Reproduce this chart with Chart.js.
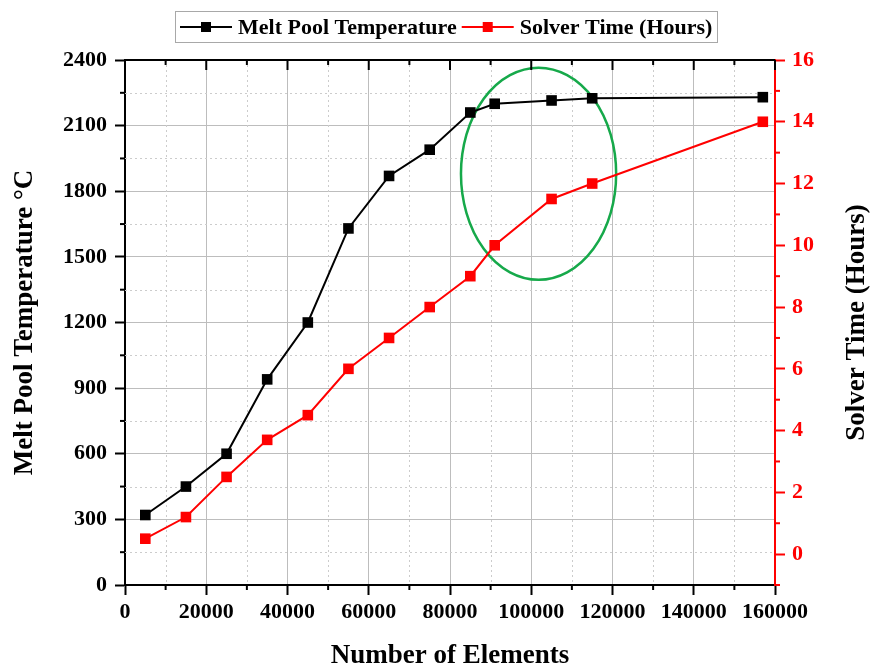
<!DOCTYPE html>
<html><head><meta charset="utf-8">
<script src="https://cdn.jsdelivr.net/npm/chart.js@4/dist/chart.umd.min.js"></script>
<style>html,body{margin:0;padding:0;background:#fff}#wrap{width:872px;height:667px;position:relative}</style>
</head><body><div id="wrap"><canvas id="c" width="872" height="667"></canvas></div>
<script>
// ---- data ----
const elements = [5000, 15000, 25000, 35000, 45000, 55000, 65000, 75000, 85000, 91000, 105000, 115000, 157000];
const meltTemp = [320, 450, 600, 940, 1200, 1630, 1870, 1990, 2160, 2200, 2215, 2225, 2230];
const solverHours = [0.5, 1.2, 2.5, 3.7, 4.5, 6.0, 7.0, 8.0, 9.0, 10.0, 11.5, 12.0, 14.0];
const seriesNames = ['Melt Pool Temperature', 'Solver Time (Hours)'];
const xTicks = [0, 20000, 40000, 60000, 80000, 100000, 120000, 140000, 160000];
const xMinorTicks = [10000, 30000, 50000, 70000, 90000, 110000, 130000, 150000];
const tempTicks = [0, 300, 600, 900, 1200, 1500, 1800, 2100, 2400];
const tempMinorTicks = [150, 450, 750, 1050, 1350, 1650, 1950, 2250];
const hourTicks = [0, 2, 4, 6, 8, 10, 12, 14, 16];
const hourMinorTicks = [-1, 1, 3, 5, 7, 9, 11, 13, 15];
const xTitle = 'Number of Elements';
const yTitle = 'Melt Pool Temperature °C';
const y1Title = 'Solver Time (Hours)';
// highlighted region (data units: x, left axis)
const highlight = { cx: 101800, cy: 1880, rx: 19100, ry: 485 };

const FONT = '"Liberation Serif", "Times New Roman", serif';
const RED = '#ff0000';

const decor = {
  id: 'decor',
  beforeDatasetsDraw(chart) {
    const { ctx, chartArea: a, scales: { x, y } } = chart;
    ctx.save();
    ctx.strokeStyle = '#cccccc';
    ctx.lineWidth = 1;
    ctx.setLineDash([2, 3]);
    xMinorTicks.forEach(v => {
      const px = Math.round(x.getPixelForValue(v)) + 0.5;
      ctx.beginPath(); ctx.moveTo(px, a.top); ctx.lineTo(px, a.bottom); ctx.stroke();
    });
    tempMinorTicks.forEach(v => {
      const py = Math.round(y.getPixelForValue(v)) + 0.5;
      ctx.beginPath(); ctx.moveTo(a.left, py); ctx.lineTo(a.right, py); ctx.stroke();
    });
    ctx.setLineDash([]);
    // ellipse highlight
    const cx = x.getPixelForValue(highlight.cx), cy = y.getPixelForValue(highlight.cy);
    const rx = Math.abs(x.getPixelForValue(highlight.cx + highlight.rx) - cx);
    const ry = Math.abs(y.getPixelForValue(highlight.cy + highlight.ry) - cy);
    ctx.strokeStyle = '#16a94a';
    ctx.lineWidth = 2.5;
    ctx.beginPath(); ctx.ellipse(cx, cy, rx, ry, 0, 0, Math.PI * 2); ctx.stroke();
    ctx.restore();
  },
  afterDraw(chart) {
    const { ctx, chartArea: a, scales: { x, y, y1 } } = chart;
    ctx.save();
    // top axis line and inward ticks
    ctx.strokeStyle = '#000'; ctx.lineWidth = 2;
    ctx.beginPath(); ctx.moveTo(a.left - 1, a.top); ctx.lineTo(a.right, a.top); ctx.stroke();
    xTicks.forEach(v => { const px = x.getPixelForValue(v); ctx.beginPath(); ctx.moveTo(px, a.top); ctx.lineTo(px, a.top + 10); ctx.stroke(); });
    xMinorTicks.forEach(v => { const px = x.getPixelForValue(v); ctx.beginPath(); ctx.moveTo(px, a.top); ctx.lineTo(px, a.top + 5); ctx.stroke(); });
    // minor ticks bottom
    xMinorTicks.forEach(v => { const px = x.getPixelForValue(v); ctx.beginPath(); ctx.moveTo(px, a.bottom); ctx.lineTo(px, a.bottom + 5); ctx.stroke(); });
    // minor ticks left
    tempMinorTicks.forEach(v => { const py = y.getPixelForValue(v); ctx.beginPath(); ctx.moveTo(a.left, py); ctx.lineTo(a.left - 5, py); ctx.stroke(); });
    // minor ticks right
    ctx.strokeStyle = RED;
    hourMinorTicks.forEach(v => { const py = y1.getPixelForValue(v); ctx.beginPath(); ctx.moveTo(a.right, py); ctx.lineTo(a.right + 5, py); ctx.stroke(); });
    // right axis title (reads bottom to top)
    ctx.fillStyle = '#000';
    ctx.font = 'bold 27px ' + FONT;
    ctx.textAlign = 'center'; ctx.textBaseline = 'middle';
    ctx.translate(857.5, (a.top + a.bottom) / 2);
    ctx.rotate(-Math.PI / 2);
    ctx.fillText(y1Title, 0, 0);
    ctx.restore();

    // legend
    ctx.save();
    ctx.font = 'bold 22px ' + FONT;
    const w1 = ctx.measureText(seriesNames[0]).width;
    const w2 = ctx.measureText(seriesNames[1]).width;
    const sample = 52, gapA = 6, gapB = 5, pad = 5;
    const total = pad + sample + gapA + w1 + gapB + sample + gapA + w2 + pad;
    const bx = Math.round(446.5 - total / 2), by = 11, bh = 31;
    ctx.strokeStyle = '#a8a8a8'; ctx.lineWidth = 1;
    ctx.strokeRect(bx + 0.5, by + 0.5, Math.round(total), bh);
    const cy = by + bh / 2 + 0.5;
    const items = [[seriesNames[0], '#000', w1], [seriesNames[1], RED, w2]];
    let cx = bx + pad;
    items.forEach(([t, col, w]) => {
      ctx.strokeStyle = col; ctx.fillStyle = col; ctx.lineWidth = 2;
      ctx.beginPath(); ctx.moveTo(cx, cy); ctx.lineTo(cx + sample, cy); ctx.stroke();
      ctx.fillRect(cx + sample / 2 - 5, cy - 5, 10, 10);
      cx += sample + gapA;
      ctx.fillStyle = '#000'; ctx.textAlign = 'left'; ctx.textBaseline = 'middle';
      ctx.fillText(t, cx, cy + 1);
      cx += w + gapB;
    });
    ctx.restore();
  }
};

new Chart(document.getElementById('c'), {
  type: 'line',
  data: {
    datasets: [
      {
        label: seriesNames[0],
        data: elements.map((e, i) => ({ x: e, y: meltTemp[i] })),
        yAxisID: 'y',
        borderColor: '#000', backgroundColor: '#000',
        borderWidth: 2, pointStyle: 'rect', pointRadius: 7.5, pointBorderWidth: 0,
        tension: 0
      },
      {
        label: seriesNames[1],
        data: elements.map((e, i) => ({ x: e, y: solverHours[i] })),
        yAxisID: 'y1',
        borderColor: RED, backgroundColor: RED,
        borderWidth: 2, pointStyle: 'rect', pointRadius: 7.5, pointBorderWidth: 0,
        tension: 0
      }
    ]
  },
  options: {
    responsive: false,
    animation: false,
    events: [],
    layout: { padding: { top: 60, left: 0, right: 0, bottom: 0 } },
    plugins: { legend: { display: false }, tooltip: { enabled: false } },
    scales: {
      x: {
        type: 'linear', position: 'bottom', min: 0, max: 160000,
        afterBuildTicks: s => { s.ticks = xTicks.map(v => ({ value: v })); },
        afterFit: s => { s.height = 82; },
        ticks: { color: '#000', font: { family: FONT, size: 22, weight: 'bold' }, padding: 4, maxRotation: 0, autoSkip: false, callback: v => String(v) },
        grid: { color: '#bdbdbd', lineWidth: 1, tickColor: '#000', tickLength: 10, tickWidth: 2 },
        border: { color: '#000', width: 2 },
        title: { display: true, text: xTitle, color: '#000', font: { family: FONT, size: 27, weight: 'bold', lineHeight: 1 }, padding: { top: 0, bottom: -2.5 } }
      },
      y: {
        type: 'linear', position: 'left', min: 0, max: 2400,
        afterBuildTicks: s => { s.ticks = tempTicks.map(v => ({ value: v })); },
        afterFit: s => { s.width = 125; },
        ticks: { color: '#000', font: { family: FONT, size: 22, weight: 'bold' }, padding: 8, callback: v => String(v) },
        grid: { color: '#bdbdbd', lineWidth: 1, tickColor: '#000', tickLength: 10, tickWidth: 2 },
        border: { color: '#000', width: 2 },
        title: { display: true, text: yTitle, color: '#000', font: { family: FONT, size: 27, weight: 'bold', lineHeight: 1 }, padding: { top: 11.5, bottom: 0 } }
      },
      y1: {
        type: 'linear', position: 'right', min: -1, max: 16,
        afterBuildTicks: s => { s.ticks = hourTicks.map(v => ({ value: v })); },
        afterFit: s => { s.width = 97; },
        ticks: { color: RED, font: { family: FONT, size: 22, weight: 'bold' }, padding: 7, callback: v => String(v) },
        grid: { drawOnChartArea: false, tickColor: RED, tickLength: 10, tickWidth: 2 },
        border: { color: RED, width: 2 }
      }
    }
  },
  plugins: [decor]
});
</script>
</body></html>
